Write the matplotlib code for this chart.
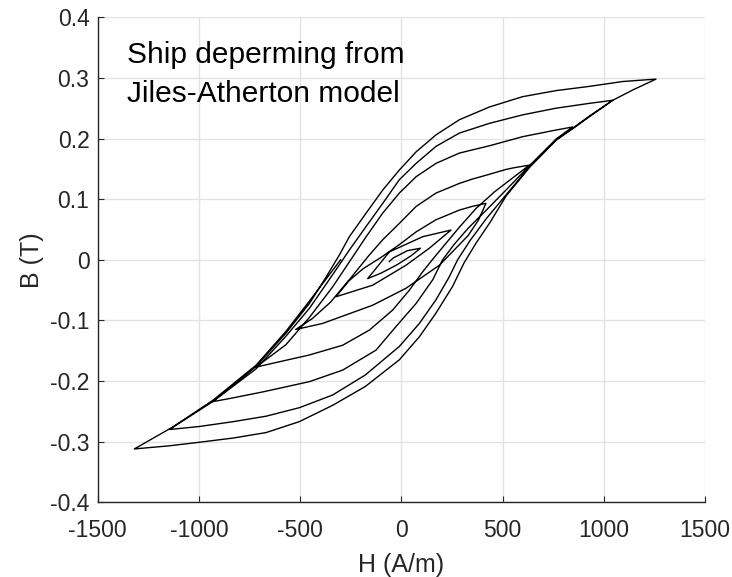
#!/usr/bin/env python3
"""
    hysteresis curve of ship deperming (Jiles-Atherton model)
    branches read off the reference picture
"""

import matplotlib
matplotlib.use('Agg')
import matplotlib.pyplot as plt

plt.rcParams['font.family'] = ['Liberation Sans', 'DejaVu Sans']
plt.rcParams['axes.unicode_minus'] = False

# field H (A/m) and flux density B (T) along each branch of the sweep
start_H = [-300, -454, -570, -718, -932, -1130, -1319]
start_B = [0.0, -0.068, -0.118, -0.174, -0.232, -0.276, -0.312]

asc1_H = [-1319, -1150, -998, -830, -668, -504, -339, -178, -10, 89, 171, 253, 310,
          370, 435, 517, 632, 764, 863, 929, 1044, 1143, 1258]
asc1_B = [-0.312, -0.307, -0.301, -0.294, -0.285, -0.267, -0.240, -0.209, -0.165, -0.127,
          -0.088, -0.044, -0.005, 0.028, 0.060, 0.105, 0.152, 0.197, 0.220, 0.236, 0.263,
          0.280, 0.298]
desc1_H = [1258, 1093, 929, 764, 599, 435, 287, 171, 73, -10, -92, -174, -257, -306,
           -380, -454, -570, -718, -932, -1146]
desc1_B = [0.298, 0.294, 0.286, 0.279, 0.269, 0.252, 0.231, 0.206, 0.178, 0.148, 0.115,
           0.077, 0.038, 0.008, -0.033, -0.072, -0.121, -0.176, -0.234, -0.280]

asc2_H = [-1146, -998, -830, -668, -504, -339, -178, -10, 89, 171, 237, 278, 340, 420,
          517, 632, 764, 863, 929, 1044]
asc2_B = [-0.280, -0.275, -0.267, -0.258, -0.244, -0.223, -0.190, -0.143, -0.105, -0.066,
          -0.028, 0.0, 0.032, 0.068, 0.107, 0.153, 0.198, 0.221, 0.237, 0.263]
desc2_H = [1044, 929, 764, 599, 435, 287, 171, 73, -10, -92, -174, -257, -330, -454,
           -570, -718, -932]
desc2_B = [0.263, 0.258, 0.250, 0.239, 0.225, 0.209, 0.187, 0.159, 0.132, 0.093, 0.055,
           0.016, -0.020, -0.080, -0.126, -0.180, -0.234]

asc3_H = [-932, -850, -685, -454, -290, -125, -26, 73, 155, 204, 260, 330, 420, 517,
          632, 764, 846]
asc3_B = [-0.234, -0.229, -0.218, -0.201, -0.182, -0.149, -0.110, -0.072, -0.033, 0.0,
          0.025, 0.052, 0.082, 0.115, 0.155, 0.199, 0.219]
desc3_H = [846, 764, 599, 435, 287, 171, 73, -10, -92, -174, -240, -340, -454, -570, -718]
desc3_B = [0.219, 0.214, 0.203, 0.188, 0.176, 0.159, 0.137, 0.110, 0.077, 0.038, 0.005,
           -0.045, -0.095, -0.140, -0.177]

asc4_H = [-718, -600, -454, -290, -158, -43, 40, 105, 160, 220, 290, 370, 460, 550, 632]
asc4_B = [-0.177, -0.168, -0.157, -0.141, -0.116, -0.083, -0.050, -0.020, 0.003, 0.027,
          0.055, 0.085, 0.112, 0.135, 0.156]
desc4_H = [632, 560, 517, 435, 350, 287, 171, 73, -10, -92, -158, -250, -350, -440, -522]
desc4_B = [0.156, 0.152, 0.149, 0.141, 0.133, 0.126, 0.110, 0.088, 0.060, 0.033, 0.008,
           -0.030, -0.070, -0.097, -0.115]

asc5_H = [-522, -389, -142, 23, 188, 330, 380, 418]
asc5_B = [-0.115, -0.105, -0.075, -0.047, -0.009, 0.040, 0.065, 0.093]
desc5_H = [418, 350, 287, 171, 73, -10, -100, -190, -260, -323]
desc5_B = [0.093, 0.088, 0.082, 0.066, 0.046, 0.025, 0.004, -0.015, -0.035, -0.061]

asc6_H = [-323, -142, 23, 138, 245]
asc6_B = [-0.061, -0.042, -0.009, 0.019, 0.049]
desc6_H = [245, 105, -59, -166]
desc6_B = [0.049, 0.038, 0.013, -0.031]

asc7_H = [-166, -100, -20, 50, 94]
asc7_B = [-0.031, -0.022, -0.008, 0.007, 0.019]
desc7_H = [94, 30, -40, -60]
desc7_B = [0.019, 0.015, 0.003, -0.003]

branches = [(start_H, start_B), (asc1_H, asc1_B), (desc1_H, desc1_B),
            (asc2_H, asc2_B), (desc2_H, desc2_B), (asc3_H, asc3_B), (desc3_H, desc3_B),
            (asc4_H, asc4_B), (desc4_H, desc4_B), (asc5_H, asc5_B), (desc5_H, desc5_B),
            (asc6_H, asc6_B), (desc6_H, desc6_B), (asc7_H, asc7_B), (desc7_H, desc7_B)]

# join the branches into one sweep
H = []
B = []
for h, b in branches:
    H += h
    B += b

x_ticks = [-1500, -1000, -500, 0, 500, 1000, 1500]
y_ticks = [-0.4, -0.3, -0.2, -0.1, 0, 0.1, 0.2, 0.3, 0.4]
y_labels = ['-0.4', '-0.3', '-0.2', '-0.1', '0', '0.1', '0.2', '0.3', '0.4']

fig = plt.figure(figsize=(7.32, 5.77), dpi=100)
ax = fig.add_axes([0.1335, 0.1295, 0.8296, 0.8406])

ax.plot(H, B, color='black', linewidth=1.0)

ax.set_xlim(-1500, 1500)
ax.set_ylim(-0.4, 0.4)
ax.set_xticks(x_ticks)
ax.set_yticks(y_ticks)
ax.set_yticklabels(y_labels)
ax.grid(color='#e3e3e3', linewidth=1.0)
ax.set_axisbelow(True)

for side in ['top', 'right']:
    ax.spines[side].set_visible(False)
for side in ['left', 'bottom']:
    ax.spines[side].set_color('#262626')
    ax.spines[side].set_linewidth(1.0)
ax.tick_params(direction='in', length=4, colors='#262626', labelsize=16.5)
ax.tick_params(axis='x', pad=12)
ax.tick_params(axis='y', pad=6)

ax.set_xlabel('H (A/m)', fontsize=18, color='#262626', labelpad=8)
ax.set_ylabel('B (T)', fontsize=18, color='#262626', labelpad=4)

ax.text(-1354, 0.325, 'Ship deperming from', fontsize=21.5, color='black', va='baseline')
ax.text(-1354, 0.261, 'Jiles-Atherton model', fontsize=21.5, color='black', va='baseline')

fig.savefig('out.png', dpi=100)
